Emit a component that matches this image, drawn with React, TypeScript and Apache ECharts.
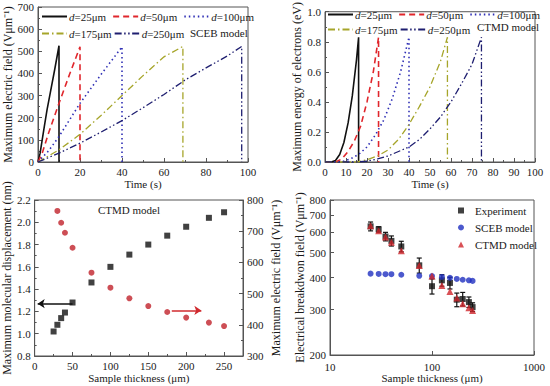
import React, { useEffect, useRef } from "react";
import * as echarts from "echarts";

const FONT = "Times New Roman";

// Panel (a): SCEB model, maximum electric field vs time
const scebD25 = [[0, 0], [1, 40], [2, 100], [3, 160], [4.3, 235], [6, 320], [8, 420], [10, 525], [10, 0]];
const scebD50 = [[0, 0], [2, 40], [5, 130], [10, 265], [15, 395], [20, 520], [20, 0]];
const scebD100 = [[0, 0], [5, 50], [10, 115], [20, 265], [30, 395], [40, 520], [40, 0]];
const scebD175 = [[0, 0], [10, 55], [20, 125], [30, 210], [40, 300], [50, 390], [60, 475], [69, 522], [69, 0]];
const scebD250 = [[0, 0], [10, 40], [20, 85], [30, 135], [40, 187], [50, 245], [60, 305], [70, 370], [80, 425], [90, 478], [97, 522], [97, 0]];

// Panel (b): CTMD model, maximum energy of electrons vs time
const ctmdD25 = [[0, 0], [3, 0], [5, 0.01], [7, 0.05], [9, 0.13], [11, 0.26], [13, 0.44], [15, 0.68], [16, 0.83], [16, 0]];
const ctmdD50 = [[0, 0], [5, 0], [8, 0.02], [11, 0.07], [14, 0.14], [17, 0.24], [20, 0.4], [23, 0.6], [25.5, 0.83], [25.5, 0]];
const ctmdD100 = [[0, 0], [8, 0], [12, 0.02], [16, 0.05], [20, 0.1], [24, 0.18], [28, 0.28], [32, 0.42], [36, 0.6], [40, 0.83], [40, 0]];
const ctmdD175 = [[0, 0], [15, 0], [20, 0.015], [25, 0.04], [30, 0.08], [35, 0.15], [40, 0.25], [45, 0.37], [50, 0.5], [55, 0.67], [58.3, 0.83], [58.3, 0]];
const ctmdD250 = [[0, 0], [15, 0], [20, 0.005], [25, 0.02], [30, 0.04], [35, 0.07], [40, 0.1], [45, 0.15], [50, 0.22], [55, 0.3], [60, 0.4], [65, 0.52], [70, 0.65], [74.5, 0.83], [74.5, 0]];

// Panel (c): CTMD model vs thickness
const thickC = [25, 30, 35, 40, 50, 75, 100, 125, 150, 175, 200, 230, 250];
const displacement = [1.02, 1.08, 1.14, 1.19, 1.28, 1.46, 1.6, 1.71, 1.8, 1.88, 1.96, 2.04, 2.09];
const thickField = [30, 35, 40, 50, 75, 100, 125, 150, 175, 200, 230, 250];
const fieldC = [765, 727, 695, 647, 567, 519, 485, 460, 441, 423, 407, 396];
const arrowLeft = [[50, 1.27], [4, 1.27]];
const arrowRight = [[181, 446], [220, 446]];

// Panel (d): breakdown field vs thickness
const thickD = [25, 30, 35, 40, 50, 75, 100, 125, 150, 175, 200, 230, 250];
const experiment = [632, 615, 577, 555, 528, 446, 370, 390, 381, 328, 330, 321, 307];
const experimentErr = [25, 15, 22, 25, 25, 30, 25, 20, 20, 20, 20, 15, 12];
const scebModel = [414, 413, 412, 412, 410, 406, 405, 402, 399, 395, 392, 390, 388];
const ctmdModel = [636, 607, 575, 548, 508, 445, 405, 372, 353, 333, 316, 305, 298];
const yTicksD = [200, 300, 400, 500, 600, 700, 800];

const legendNames: Record<string, string> = {
  a25: "25", a50: "50", a100: "100", a175: "175", a250: "250",
  b25: "25", b50: "50", b100: "100", b175: "175", b250: "250",
};

const BLACK = "#111111";
const RED = "#e0262c";
const BLUE = "#2f2fb5";
const OLIVE = "#a6a52a";
const NAVY = "#1e1e70";
const AXIS = "#555555";
const TEXT = "#1a1a1a";

const styles = [
  { color: BLACK, type: "solid" as any, width: 1.6 },
  { color: RED, type: [6, 4], width: 1.6 },
  { color: BLUE, type: [1.5, 3], width: 1.6 },
  { color: OLIVE, type: [7, 3, 1.5, 3], width: 1.3 },
  { color: NAVY, type: [7, 2.5, 1.5, 2.5, 1.5, 2.5], width: 1.3 },
];

function lineSeries(name: string, data: number[][], idx: number, axis: number) {
  const s = styles[idx];
  return {
    name,
    type: "line",
    xAxisIndex: axis,
    yAxisIndex: axis,
    data,
    showSymbol: false,
    symbol: "none",
    lineStyle: { color: s.color, type: s.type, width: s.width },
    itemStyle: { color: s.color },
    z: 3,
  };
}

const labelStyle = { fontFamily: FONT, fontSize: 11, color: TEXT };
const xNameStyle = { fontFamily: FONT, fontSize: 11, color: TEXT };
const yNameStyle = { fontFamily: FONT, fontSize: 12, color: TEXT };

function baseAxis(extra: any) {
  return {
    axisLine: { show: true, lineStyle: { color: AXIS, width: 1 } },
    axisTick: { show: true, inside: true, length: 4, lineStyle: { color: AXIS } },
    minorTick: { show: true, splitNumber: 2, length: 2, lineStyle: { color: AXIS } },
    splitLine: { show: false },
    axisLabel: { ...labelStyle, margin: 4 },
    nameTextStyle: xNameStyle,
    nameLocation: "middle",
    ...extra,
  };
}

function legendFmt(name: string) {
  const v = legendNames[name];
  return v ? `{i|d}=${v}\u03bcm` : name;
}

const legendRich = { i: { fontStyle: "italic", fontFamily: FONT, fontSize: 11, color: TEXT } };

function rowLegend(data: string[], left: number, top: number, gap: number) {
  return {
    data,
    left,
    top,
    width: 260,
    orient: "horizontal",
    itemWidth: 25,
    itemHeight: 8,
    itemGap: gap,
    padding: 0,
    selectedMode: false,
    itemStyle: { opacity: 0, color: "transparent", borderWidth: 0 },
    formatter: legendFmt,
    textStyle: { fontFamily: FONT, fontSize: 11, color: TEXT, padding: [0, 0, 0, -3], rich: legendRich },
  };
}

export default function App() {
  const ref = useRef<HTMLDivElement>(null);
  useEffect(() => {
    if (!ref.current) return;
    const chart = echarts.init(ref.current, null, { renderer: "svg" });
    const field = "Maximum electric field (V\u03bcm\u207b\u00b9)";
    const option: any = {
      animation: false,
      backgroundColor: "#ffffff",
      textStyle: { fontFamily: FONT },
      grid: [
        { left: 38, top: 7, width: 210, height: 155, show: true, borderColor: AXIS, borderWidth: 1 },
        { left: 325, top: 9, width: 210, height: 153, show: true, borderColor: AXIS, borderWidth: 1 },
        { left: 33, top: 200, width: 210, height: 156, show: true, borderColor: AXIS, borderWidth: 1 },
        { left: 330, top: 200, width: 204, height: 155, show: true, borderColor: AXIS, borderWidth: 1 },
      ],
      xAxis: [
        baseAxis({ gridIndex: 0, type: "value", min: 0, max: 100, interval: 20, name: "Time (s)", nameGap: 16 }),
        baseAxis({ gridIndex: 1, type: "value", min: 0, max: 100, interval: 10, name: "Time (s)", nameGap: 16 }),
        baseAxis({ gridIndex: 2, type: "value", min: 0, max: 275, interval: 50, name: "Sample thickness (\u03bcm)", nameGap: 16, axisLabel: { ...labelStyle, margin: 4, showMaxLabel: false } }),
        baseAxis({ gridIndex: 3, type: "log", logBase: 10, min: 10, max: 1000, name: "Sample thickness (\u03bcm)", nameGap: 17, minorTick: { show: false }, axisLabel: { ...labelStyle, margin: 6, formatter: (v: number) => String(Math.round(v)) } }),
      ],
      yAxis: [
        baseAxis({ gridIndex: 0, type: "value", min: 0, max: 700, interval: 100, name: field, nameGap: 22, nameRotate: 90, nameTextStyle: yNameStyle }),
        baseAxis({ gridIndex: 1, type: "value", min: 0, max: 1, interval: 0.2, name: "Maximum energy of electrons (eV)", nameGap: 22, nameRotate: 90, nameTextStyle: yNameStyle, axisLabel: { ...labelStyle, margin: 4, formatter: (v: number) => v.toFixed(1) } }),
        baseAxis({ gridIndex: 2, type: "value", min: 0.8, max: 2.2, interval: 0.2, name: "Maximum molecular displacement (nm)", nameGap: 18, nameRotate: 90, nameTextStyle: yNameStyle, axisLabel: { ...labelStyle, margin: 4, formatter: (v: number) => v.toFixed(1) } }),
        baseAxis({ gridIndex: 2, type: "value", position: "right", min: 300, max: 800, interval: 100, name: field, nameGap: 27, nameRotate: 90, nameTextStyle: yNameStyle }),
        baseAxis({
          gridIndex: 3, type: "log", logBase: 10, min: 200, max: 800, name: "Electrical breakdwon field (V\u03bcm\u207b\u00b9)", nameGap: 24, nameRotate: 90, nameTextStyle: yNameStyle,
          minorTick: { show: false },
          axisTick: { show: true, inside: true, length: 4, lineStyle: { color: AXIS }, customValues: yTicksD },
          axisLabel: { ...labelStyle, margin: 4, customValues: yTicksD },
        }),
      ],
      legend: [
        rowLegend(["a25", "a50", "a100"], 41, 11, 6),
        rowLegend(["a175", "a250"], 41, 28, 2),
        rowLegend(["b25", "b50", "b100"], 327, 9, 6),
        rowLegend(["b175", "b250"], 327, 24, 2),
        {
          data: [
            { name: "Experiment", icon: "rect" },
            { name: "SCEB model", icon: "circle" },
            { name: "CTMD model", icon: "triangle" },
          ],
          left: 458,
          top: 205,
          orient: "vertical",
          itemWidth: 6,
          itemHeight: 6,
          itemGap: 6,
          padding: 0,
          selectedMode: false,
          textStyle: { fontFamily: FONT, fontSize: 11, color: TEXT, padding: [0, 0, 0, 6] },
        },
      ],
      graphic: [
        { type: "text", left: 190, top: 27, style: { text: "SCEB model", fontFamily: FONT, fontSize: 11, fill: TEXT } },
        { type: "text", left: 477, top: 21, style: { text: "CTMD model", fontFamily: FONT, fontSize: 11, fill: TEXT } },
        { type: "text", left: 98, top: 204, style: { text: "CTMD model", fontFamily: FONT, fontSize: 11, fill: TEXT } },
      ],
      series: [
        lineSeries("a25", scebD25, 0, 0),
        lineSeries("a50", scebD50, 1, 0),
        lineSeries("a100", scebD100, 2, 0),
        lineSeries("a175", scebD175, 3, 0),
        lineSeries("a250", scebD250, 4, 0),
        lineSeries("b25", ctmdD25, 0, 1),
        lineSeries("b50", ctmdD50, 1, 1),
        lineSeries("b100", ctmdD100, 2, 1),
        lineSeries("b175", ctmdD175, 3, 1),
        lineSeries("b250", ctmdD250, 4, 1),
        {
          name: "displacement",
          type: "scatter",
          xAxisIndex: 2,
          yAxisIndex: 2,
          symbol: "rect",
          symbolSize: 6,
          itemStyle: { color: BLACK },
          data: thickC.map((t, i) => [t, displacement[i]]),
        },
        {
          name: "fieldC",
          type: "scatter",
          xAxisIndex: 2,
          yAxisIndex: 3,
          symbol: "circle",
          symbolSize: 6,
          itemStyle: { color: "#c0222a" },
          data: thickField.map((t, i) => [t, fieldC[i]]),
        },
        {
          type: "lines",
          coordinateSystem: "cartesian2d",
          xAxisIndex: 2,
          yAxisIndex: 2,
          symbol: ["none", "arrow"],
          symbolSize: 7,
          lineStyle: { color: BLACK, width: 1.5, opacity: 1 },
          data: [{ coords: arrowLeft }],
        },
        {
          type: "lines",
          coordinateSystem: "cartesian2d",
          xAxisIndex: 2,
          yAxisIndex: 3,
          symbol: ["none", "arrow"],
          symbolSize: 7,
          lineStyle: { color: "#d02a2e", width: 1.5, opacity: 1 },
          data: [{ coords: arrowRight }],
        },
        {
          name: "errors",
          type: "custom",
          xAxisIndex: 3,
          yAxisIndex: 4,
          data: thickD.map((t, i) => [t, experiment[i], experimentErr[i]]),
          encode: { x: 0, y: 1 },
          renderItem: (params: any, api: any) => {
            const x = api.value(0);
            const y = api.value(1);
            const e = api.value(2);
            const top = api.coord([x, y + e]);
            const bot = api.coord([x, y - e]);
            const w = 2.5;
            const st = { stroke: BLACK, lineWidth: 1.2 };
            return {
              type: "group",
              children: [
                { type: "line", shape: { x1: top[0], y1: top[1], x2: bot[0], y2: bot[1] }, style: st },
                { type: "line", shape: { x1: top[0] - w, y1: top[1], x2: top[0] + w, y2: top[1] }, style: st },
                { type: "line", shape: { x1: bot[0] - w, y1: bot[1], x2: bot[0] + w, y2: bot[1] }, style: st },
              ],
            };
          },
          z: 2,
        },
        {
          name: "Experiment",
          type: "scatter",
          xAxisIndex: 3,
          yAxisIndex: 4,
          symbol: "rect",
          symbolSize: 6,
          itemStyle: { color: BLACK },
          data: thickD.map((t, i) => [t, experiment[i]]),
          z: 3,
        },
        {
          name: "SCEB model",
          type: "scatter",
          xAxisIndex: 3,
          yAxisIndex: 4,
          symbol: "circle",
          symbolSize: 6,
          itemStyle: { color: "#1f2fc0" },
          data: thickD.map((t, i) => [t, scebModel[i]]),
          z: 3,
        },
        {
          name: "CTMD model",
          type: "scatter",
          xAxisIndex: 3,
          yAxisIndex: 4,
          symbol: "triangle",
          symbolSize: 7,
          itemStyle: { color: "#d0262c" },
          data: thickD.map((t, i) => [t, ctmdModel[i]]),
          z: 4,
        },
      ],
    };
    chart.setOption(option);
    return () => chart.dispose();
  }, []);
  return (
    <div
      ref={ref}
      style={{ position: "fixed", left: 0, top: 0, width: 550, height: 386, background: "#fff" }}
    />
  );
}
